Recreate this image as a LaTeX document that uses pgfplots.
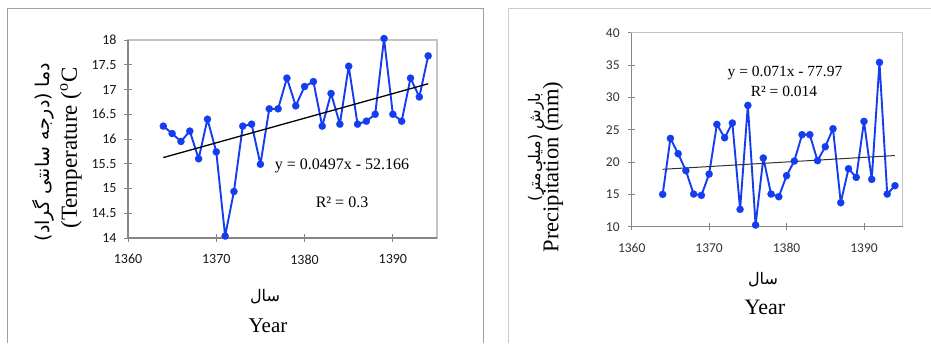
\documentclass[border=0pt]{standalone}
\usepackage{fontspec}
\setmainfont{Liberation Serif}
\newfontfamily\calibri{Carlito}
\newfontfamily\arabicfont[Script=Arabic]{DejaVu Sans}
\usepackage{pgfplots}
\pgfplotsset{compat=1.18}
\TeXXeTstate=1

\definecolor{lineblue}{RGB}{20,60,240}
\definecolor{axgray}{RGB}{134,134,134}
\definecolor{framegray}{RGB}{195,195,195}

\pgfplotsset{mystyle/.style={
  scale only axis, anchor=south west,
  axis line style={framegray, line width=1.1pt},
  xmin=1360, xmax=1395, xtick={1360,1370,1380,1390},
  xtick pos=left, ytick pos=left,
  tick align=center, major tick length=8pt,
  tick style={axgray, line width=0.8pt},
  /pgf/number format/assume math mode=true,
  /pgf/number format/1000 sep={},
  clip=false,
}}
\pgfplotsset{datastyle/.style={lineblue, line width=1.9pt, line join=round, mark=*, mark size=3.6pt, mark options={solid, fill=lineblue, draw=lineblue, line width=0.2pt}}}

\pgfplotstableread{
year temp
1364 16.26
1365 16.11
1366 15.95
1367 16.16
1368 15.60
1369 16.40
1370 15.74
1371 14.04
1372 14.94
1373 16.26
1374 16.30
1375 15.49
1376 16.61
1377 16.61
1378 17.23
1379 16.67
1380 17.06
1381 17.16
1382 16.26
1383 16.92
1384 16.30
1385 17.47
1386 16.30
1387 16.36
1388 16.50
1389 18.03
1390 16.50
1391 16.36
1392 17.23
1393 16.85
1394 17.68
}\temptable

\pgfplotstableread{
year prec
1364 15.00
1365 23.66
1366 21.29
1367 18.66
1368 15.05
1369 14.85
1370 18.14
1371 25.82
1372 23.76
1373 26.03
1374 12.68
1375 28.76
1376 10.26
1377 20.62
1378 15.05
1379 14.64
1380 17.89
1381 20.15
1382 24.23
1383 24.23
1384 20.21
1385 22.37
1386 25.15
1387 13.71
1388 18.97
1389 17.63
1390 26.29
1391 17.32
1392 35.41
1393 15.05
1394 16.34
}\prectable

\begin{document}
\begin{tikzpicture}
\useasboundingbox (0pt,0pt) rectangle (931pt,343pt);
\fill[white] (0pt,0pt) rectangle (931pt,343pt);
% frames
\draw[gray!75, line width=1pt] (7pt,0pt) -- (7pt,334pt) -- (483pt,334pt) -- (483pt,0pt);
\draw[gray!40, line width=1pt] (508pt,0pt) -- (508pt,334pt) -- (931pt,334pt);

% left chart
\begin{axis}[mystyle, at={(128pt,105pt)}, width=309pt, height=198pt,
  ymin=14, ymax=18, ytick={14,14.5,...,18},
  tick label style={font=\fontsize{14}{14}\calibri, black!90},
  xticklabel style={yshift=-9pt}, yticklabel style={xshift=-4pt}]
\addplot[datastyle] table[x=year, y=temp] {\temptable};
\addplot[black, line width=1.3pt] coordinates {(1364,15.625) (1394,17.116)};
\draw[axgray, line width=1.6pt] (rel axis cs:0,1) -- (rel axis cs:0,0) -- (rel axis cs:1,0);
\end{axis}

% right chart
\begin{axis}[mystyle, at={(631.7pt,116.3pt)}, width=271pt, height=194pt,
  ymin=10, ymax=40, ytick={10,15,...,40}, major tick length=7pt,
  tick label style={font=\fontsize{13.5}{13.5}\calibri, black!80},
  xticklabel style={yshift=-10pt}, yticklabel style={xshift=-5pt}]
\addplot[datastyle] table[x=year, y=prec] {\prectable};
\addplot[black!80, line width=1pt] coordinates {(1364,18.874) (1394,21.004)};
\draw[axgray, line width=1.3pt] (rel axis cs:0,1) -- (rel axis cs:0,0) -- (rel axis cs:1,0);
\end{axis}

% left labels
\node[rotate=90, font=\fontsize{19}{19}\arabicfont] at (43pt,191pt) {\beginR دما (درجه سانتی گراد)\endR};
\node[rotate=90, font=\fontsize{23}{23}\selectfont] at (71pt,195pt) {(Temperature (\textsuperscript{o}C};
\node[font=\fontsize{16}{16}\arabicfont] at (265pt,46pt) {\beginR سال\endR};
\node[font=\fontsize{21}{21}\selectfont] at (268pt,17pt) {Year};
\node[font=\fontsize{16}{16}\selectfont] at (342pt,177pt) {y = 0.0497x - 52.166};
\node[font=\fontsize{16}{16}\selectfont] at (342pt,141pt) {R² = 0.3};

% right labels
\node[rotate=90, font=\fontsize{16}{16}\arabicfont] at (536pt,196pt) {\beginR بارش (میلی‌متر)\endR};
\node[rotate=90, font=\fontsize{22.5}{22.5}\selectfont] at (553pt,176pt) {Precipitation (mm)};
\node[font=\fontsize{16}{16}\arabicfont] at (763pt,63pt) {\beginR سال\endR};
\node[font=\fontsize{22}{22}\selectfont] at (765pt,36pt) {Year};
\node[font=\fontsize{15.5}{15.5}\selectfont] at (785pt,270pt) {y = 0.071x - 77.97};
\node[font=\fontsize{15.5}{15.5}\selectfont] at (784pt,252pt) {R² = 0.014};
\end{tikzpicture}
\end{document}
